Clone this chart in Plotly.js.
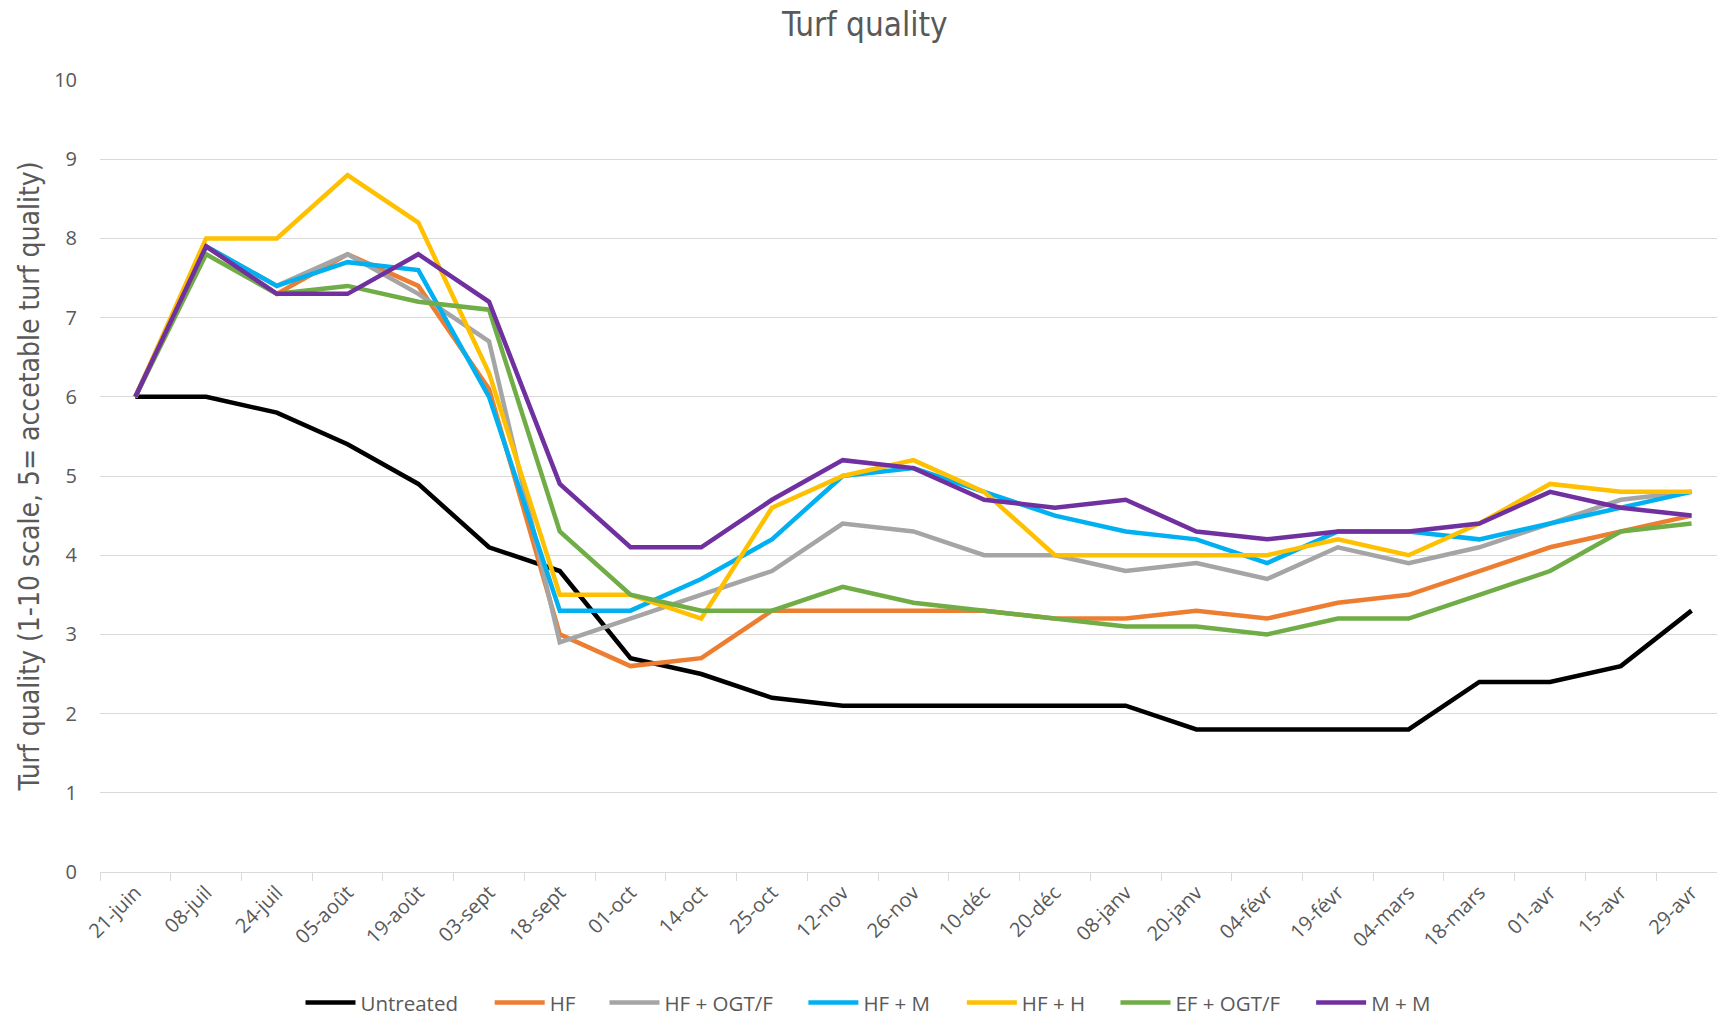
<!DOCTYPE html>
<html>
<head>
<meta charset="utf-8">
<script src="https://cdn.plot.ly/plotly-3.0.1.min.js"></script>
<style>html,body{margin:0;padding:0;background:#fff;}#chart{width:1717px;height:1016px;}</style>
</head>
<body>
<div id="chart"></div>
<script>
const dates = ["21-juin","08-juil","24-juil","05-août","19-août","03-sept","18-sept","01-oct","14-oct","25-oct","12-nov","26-nov","10-déc","20-déc","08-janv","20-janv","04-févr","19-févr","04-mars","18-mars","01-avr","15-avr","29-avr"];

const untreated = [6.0,6.0,5.8,5.4,4.9,4.1,3.8,2.7,2.5,2.2,2.1,2.1,2.1,2.1,2.1,1.8,1.8,1.8,1.8,2.4,2.4,2.6,3.3];
const hf        = [6.0,7.9,7.3,7.8,7.4,6.1,3.0,2.6,2.7,3.3,3.3,3.3,3.3,3.2,3.2,3.3,3.2,3.4,3.5,3.8,4.1,4.3,4.5];
const hfOgt     = [6.0,7.9,7.4,7.8,7.3,6.7,2.9,3.2,3.5,3.8,4.4,4.3,4.0,4.0,3.8,3.9,3.7,4.1,3.9,4.1,4.4,4.7,4.8];
const hfM       = [6.0,7.9,7.4,7.7,7.6,6.0,3.3,3.3,3.7,4.2,5.0,5.1,4.8,4.5,4.3,4.2,3.9,4.3,4.3,4.2,4.4,4.6,4.8];
const hfH       = [6.0,8.0,8.0,8.8,8.2,6.3,3.5,3.5,3.2,4.6,5.0,5.2,4.8,4.0,4.0,4.0,4.0,4.2,4.0,4.4,4.9,4.8,4.8];
const efOgt     = [6.0,7.8,7.3,7.4,7.2,7.1,4.3,3.5,3.3,3.3,3.6,3.4,3.3,3.2,3.1,3.1,3.0,3.2,3.2,3.5,3.8,4.3,4.4];
const mm        = [6.0,7.9,7.3,7.3,7.8,7.2,4.9,4.1,4.1,4.7,5.2,5.1,4.7,4.6,4.7,4.3,4.2,4.3,4.3,4.4,4.8,4.6,4.5];

const seriesNames = ["Untreated","HF","HF + OGT/F","HF + M","HF + H","EF + OGT/F","M + M"];
const seriesValues = [untreated, hf, hfOgt, hfM, hfH, efOgt, mm];
const seriesColors = ["#000000","#ED7D31","#A5A5A5","#00B0F0","#FFC000","#70AD47","#7030A0"];

// legend key left edges (paper fraction), one legend per series
const legendX = [0.124, 0.241, 0.312, 0.435, 0.533, 0.628, 0.749];
const legendIds = ["legend","legend2","legend3","legend4","legend5","legend6","legend7"];

const traces = seriesNames.map((n, i) => ({
  type: "scatter",
  mode: "lines",
  name: n,
  x: dates,
  y: seriesValues[i],
  line: {color: seriesColors[i], width: 4.5},
  legend: legendIds[i] === "legend" ? undefined : legendIds[i],
  hoverinfo: "x+y+name"
}));

const tickFont = {family: "Open Sans, Liberation Sans, sans-serif", size: 20, color: "#595959"};
const narrow = "Liberation Sans Narrow, DejaVu Sans Condensed, sans-serif";
const legendFont = {family: "Open Sans, Liberation Sans, sans-serif", size: 20.5, color: "#595959"};

const layout = {
  width: 1717,
  height: 1016,
  paper_bgcolor: "#ffffff",
  plot_bgcolor: "#ffffff",
  margin: {l: 100, r: 0, t: 80, b: 144, autoexpand: false},
  title: {
    text: "Turf quality",
    font: {family: narrow, size: 33, color: "#595959"},
    x: 0.473, xref: "paper", xanchor: "center",
    y: 0.976, yref: "container", yanchor: "middle"
  },
  xaxis: {
    type: "category",
    range: [-0.5, 22.36],
    automargin: false,
    showgrid: false,
    showline: true,
    linecolor: "#d9d9d9",
    linewidth: 1,
    ticks: "outside",
    tickson: "boundaries",
    ticklen: 8,
    tickcolor: "#d9d9d9",
    tickangle: -45,
    tickfont: tickFont,
    zeroline: false,
    fixedrange: true
  },
  yaxis: {
    range: [0, 10],
    dtick: 1,
    tick0: 0,
    automargin: false,
    showgrid: true,
    gridcolor: "#d9d9d9",
    gridwidth: 1,
    zeroline: false,
    showline: false,
    ticks: "",
    ticklabelstandoff: 22,
    tickfont: tickFont,
    title: {
      text: "Turf quality (1-10 scale, 5= accetable turf quality)",
      font: {family: narrow, size: 28, color: "#595959"},
      standoff: 6
    },
    fixedrange: true
  },
  showlegend: true
};

legendIds.forEach((id, i) => {
  layout[id] = {
    orientation: "h",
    x: legendX[i], xanchor: "left",
    yref: "container",
    y: 0.013, yanchor: "middle",
    font: legendFont,
    itemwidth: 50,
    bgcolor: "rgba(0,0,0,0)"
  };
});

Plotly.newPlot("chart", traces, layout, {displayModeBar: false});
</script>
</body>
</html>
